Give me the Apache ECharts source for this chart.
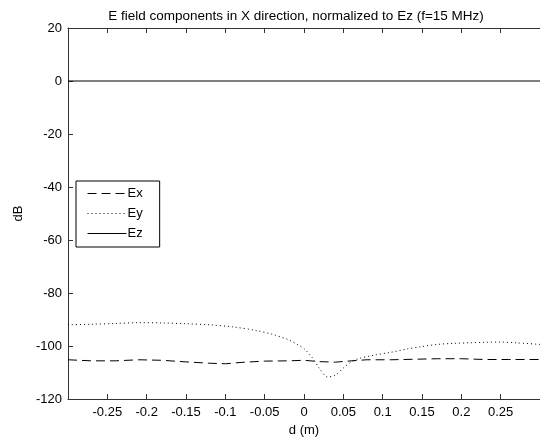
<!DOCTYPE html>
<html>
<head>
<meta charset="utf-8">
<script src="https://cdn.jsdelivr.net/npm/echarts@6/dist/echarts.min.js"></script>
<style>html,body{margin:0;padding:0;background:#fff;}#c{width:540px;height:443px;}</style>
</head>
<body>
<div id="c"></div>
<script>
var titleText = 'E field components in X direction, normalized to Ez (f=15 MHz)';
var xTicks = [-0.25, -0.2, -0.15, -0.1, -0.05, 0, 0.05, 0.1, 0.15, 0.2, 0.25];
var yTicks = [-120, -100, -80, -60, -40, -20, 0, 20];

var exD = [-0.30, -0.27, -0.24, -0.21, -0.18, -0.15, -0.12, -0.10, -0.08, -0.05, -0.02, 0.00, 0.02, 0.04, 0.06, 0.08, 0.11, 0.14, 0.17, 0.20, 0.23, 0.26, 0.30];
var exV = [-105.2, -105.6, -105.6, -105.2, -105.4, -106.0, -106.5, -106.7, -106.2, -105.7, -105.6, -105.4, -105.9, -106.1, -105.6, -105.2, -105.2, -105.0, -104.8, -104.8, -105.1, -105.1, -105.1];

var eyD = [-0.30, -0.27, -0.24, -0.21, -0.18, -0.15, -0.12, -0.09, -0.06, -0.04, -0.02, -0.01, 0.00, 0.01, 0.02, 0.03, 0.04, 0.05, 0.06, 0.07, 0.09, 0.11, 0.13, 0.15, 0.17, 0.19, 0.21, 0.23, 0.25, 0.27, 0.30];
var eyV = [-92.0, -91.8, -91.5, -91.2, -91.3, -91.6, -92.0, -92.8, -94.2, -95.6, -97.6, -99.2, -101.0, -104.2, -108.6, -111.7, -111.0, -108.3, -106.0, -104.7, -103.4, -102.4, -101.2, -100.2, -99.4, -99.0, -98.8, -98.6, -98.5, -98.8, -99.4];

var ezD = [-0.30, 0.30];
var ezV = [0, 0];

function pairs(xs, ys) { return xs.map(function (x, i) { return [x, ys[i]]; }); }

var font = 'Arial, "Liberation Sans", sans-serif';
var chart = echarts.init(document.getElementById('c'), null, {renderer: 'canvas'});
var axisCol = '#333';
chart.setOption({
  animation: false,
  backgroundColor: '#fff',
  title: {
    text: titleText, left: 291, top: 4, textAlign: 'center',
    textStyle: {fontFamily: font, fontSize: 13.5, fontWeight: 'normal', color: '#000'}
  },
  grid: {left: 68, right: 0, top: 28, bottom: 44, containLabel: false},
  legend: {
    orient: 'vertical', left: 76, top: 181,
    itemWidth: 39, itemHeight: 14, itemGap: 7,
    padding: [6, 17, 7, 11],
    borderColor: '#000', borderWidth: 1, backgroundColor: '#fff',
    itemStyle: {opacity: 0},
    lineStyle: {width: 1},
    textStyle: {fontFamily: font, fontSize: 13, color: '#000', padding: [0, 0, 0, -4]},
    data: ['Ex', 'Ey', 'Ez']
  },
  xAxis: [{
    type: 'value', min: -0.3, max: 0.3, interval: 0.05,
    name: 'd (m)', nameLocation: 'middle', nameGap: 24,
    nameTextStyle: {fontFamily: font, fontSize: 13, color: '#000'},
    axisLine: {show: true, onZero: false, lineStyle: {color: axisCol, width: 1}},
    axisTick: {show: true, inside: true, length: 5, lineStyle: {color: axisCol}, customValues: xTicks},
    axisLabel: {fontFamily: font, fontSize: 13, color: '#000', margin: 7, customValues: xTicks,
      formatter: function (v) { return String(Math.round(v * 100) / 100); }},
    splitLine: {show: false}
  }, {
    type: 'value', position: 'top', min: -0.3, max: 0.3, interval: 0.05,
    axisLine: {show: true, onZero: false, lineStyle: {color: axisCol, width: 1}},
    axisTick: {show: true, inside: true, length: 5, lineStyle: {color: axisCol}, customValues: xTicks},
    axisLabel: {show: false},
    splitLine: {show: false}
  }],
  yAxis: [{
    type: 'value', min: -120, max: 20, interval: 20,
    name: 'dB', nameLocation: 'middle', nameGap: 38, nameRotate: 90,
    nameTextStyle: {fontFamily: font, fontSize: 13, color: '#000'},
    axisLine: {show: true, onZero: false, lineStyle: {color: axisCol, width: 1}},
    axisTick: {show: true, inside: true, length: 5, lineStyle: {color: axisCol}, customValues: yTicks},
    axisLabel: {fontFamily: font, fontSize: 13, color: '#000', margin: 6, customValues: yTicks},
    splitLine: {show: false}
  }],
  series: [{
    name: 'Ex', type: 'line', data: pairs(exD, exV), symbol: 'none', smooth: false,
    color: '#000', lineStyle: {color: '#000', width: 1, type: [9, 5]}
  }, {
    name: 'Ey', type: 'line', data: pairs(eyD, eyV), symbol: 'none', smooth: 0.3,
    color: '#000', lineStyle: {color: '#000', width: 1, type: [1, 3]}
  }, {
    name: 'Ez', type: 'line', data: pairs(ezD, ezV), symbol: 'none',
    color: '#000', lineStyle: {color: '#000', width: 1, type: 'solid'}
  }]
});
</script>
</body>
</html>
